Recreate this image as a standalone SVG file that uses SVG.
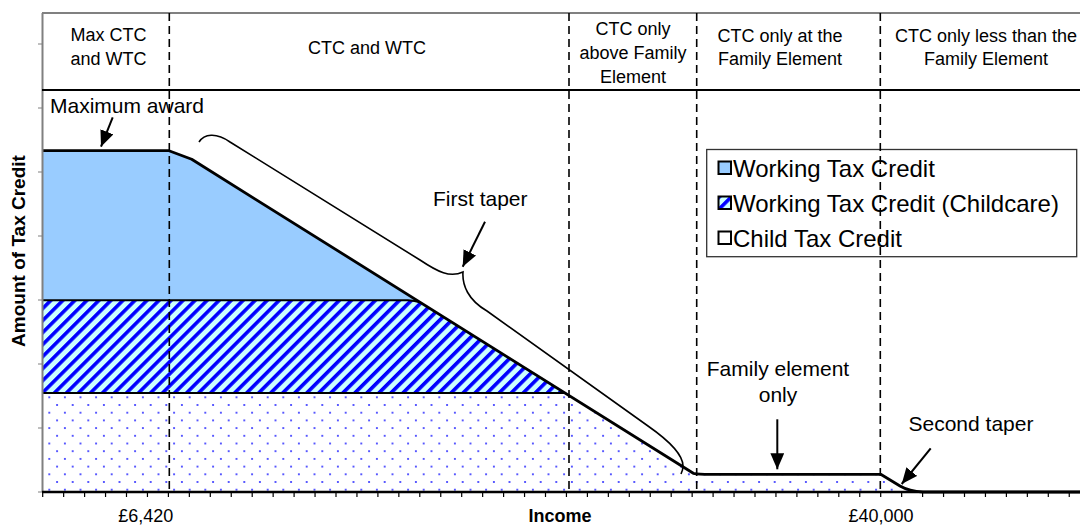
<svg xmlns="http://www.w3.org/2000/svg" width="1080" height="527" viewBox="0 0 1080 527">
<style>
text{font-family:"Liberation Sans",Arial,sans-serif;fill:#000}
.hdr{font-size:18px;text-anchor:middle}
.ann{font-size:21px}
.leg{font-size:24px}
.axt{font-size:18px;font-weight:bold;text-anchor:middle}
.tick{font-size:18px;text-anchor:middle}
.dash{stroke:#000;stroke-width:1.6;stroke-dasharray:8,5;fill:none}
.gray{stroke:#808080;stroke-width:2;fill:none}
.edge{stroke:#000;stroke-width:2;fill:none}
.outline{stroke:#000;stroke-width:2.8;fill:none;stroke-linejoin:round}
.arrow{stroke:#000;stroke-width:2;fill:none;marker-end:url(#ah)}
.brace{stroke:#000;stroke-width:1.6;fill:none}
</style>
<defs>
<pattern id="hatch" patternUnits="userSpaceOnUse" width="8.5" height="8.5" patternTransform="rotate(45)">
<rect width="8.5" height="8.5" fill="#CCFFFF"/>
<rect width="3.6" height="8.5" fill="#0000FF"/>
</pattern>
<pattern id="dots" patternUnits="userSpaceOnUse" x="49.3" y="397.3" width="15.6" height="15.4">
<rect width="15.6" height="15.4" fill="#FFFFFF"/>
<circle cx="0" cy="0" r="1" fill="#2020FF"/>
<circle cx="15.6" cy="0" r="1" fill="#2020FF"/>
<circle cx="0" cy="15.4" r="1" fill="#2020FF"/>
<circle cx="15.6" cy="15.4" r="1" fill="#2020FF"/>
<circle cx="7.8" cy="7.7" r="1" fill="#2020FF"/>
</pattern>
<marker id="ah" markerUnits="userSpaceOnUse" markerWidth="16" markerHeight="14" viewBox="0 0 15 13" refX="15" refY="6.5" orient="auto">
<path d="M0,0 L15,6.5 L0,13 Z" fill="#000"/>
</marker>
</defs>
<rect width="1080" height="527" fill="#FFFFFF"/>

<g id="areas">
<path id="area-ctc" d="M42,393 L565,393 L693.3,473.3 C697,474 700,474.3 710,474.3 L880.7,474.3 L900,486 C906,489.5 912,491.5 923,492 L42,492 Z" fill="url(#dots)"/>
<path id="area-childcare" d="M42,300.2 L416.7,300.2 L565,393 L42,393 Z" fill="url(#hatch)"/>
<path id="area-wtc" d="M42,150.7 L169,150.7 L191.7,159.3 L416.7,300.2 L42,300.2 Z" fill="#99CCFF"/>
<path class="edge" d="M42,393 L565,393"/>
<path class="edge" d="M42,300.2 L408,300.2 Q415,300.4 420,302.4"/>
<path class="outline" d="M42,150.7 L169,150.7 L191.7,159.3 L693.3,473.3 C697,474 700,474.3 710,474.3 L880.7,474.3 L900,486 C906,489.5 912,491.5 923,492 L1080,492"/>
</g>

<g id="axes">
<line class="gray" x1="42" y1="13" x2="1080" y2="13"/>
<line class="gray" x1="42.5" y1="13" x2="42.5" y2="492"/>
<line x1="42" y1="492" x2="1080" y2="492" stroke="#000" stroke-width="2.4"/>
<path stroke="#808080" stroke-width="1.2" d="M38,44H42M38,108H42M38,172H42M38,236H42M38,300H42M38,364H42M38,428H42M38,492H42"/>
<path stroke="#000" stroke-width="1.2" d="M42.7,492V497M63.65,492V497M84.6,492V497M105.55,492V497M126.5,492V497M147.45,492V497M168.4,492V497M189.35,492V497M210.3,492V497M231.25,492V497M252.2,492V497M273.15,492V497M294.1,492V497M315.05,492V497M336,492V497M356.95,492V497M377.9,492V497M398.85,492V497M419.8,492V497M440.75,492V497M461.7,492V497M482.65,492V497M503.6,492V497M524.55,492V497M545.5,492V497M566.45,492V497M587.4,492V497M608.35,492V497M629.3,492V497M650.25,492V497M671.2,492V497M692.15,492V497M713.1,492V497M734.05,492V497M755,492V497M775.95,492V497M796.9,492V497M817.85,492V497M838.8,492V497M859.75,492V497M880.7,492V497M901.65,492V497M922.6,492V497M943.55,492V497M964.5,492V497M985.45,492V497M1006.4,492V497M1027.35,492V497M1048.3,492V497M1069.25,492V497"/>
<text class="tick" x="145.7" y="521.5">£6,420</text>
<text class="tick" x="881" y="522">£40,000</text>
<text class="axt" x="560" y="522">Income</text>
<text class="axt" font-size="19" transform="translate(25,251) rotate(-90)" x="0" y="0" style="font-size:19px">Amount of Tax Credit</text>
</g>

<g id="header">
<line x1="42" y1="90" x2="1080" y2="90" stroke="#000" stroke-width="2.2"/>
<text class="hdr" x="108.5" y="41">Max CTC</text>
<text class="hdr" x="108.5" y="65">and WTC</text>
<text class="hdr" x="367" y="54">CTC and WTC</text>
<text class="hdr" x="633" y="35">CTC only</text>
<text class="hdr" x="633" y="59">above Family</text>
<text class="hdr" x="633" y="83">Element</text>
<text class="hdr" x="780" y="41.5">CTC only at the</text>
<text class="hdr" x="780" y="65">Family Element</text>
<text class="hdr" x="986" y="41.5">CTC only less than the</text>
<text class="hdr" x="986" y="65">Family Element</text>
</g>

<g id="legend">
<rect x="706.7" y="149.5" width="370" height="107.2" fill="#FFFFFF" stroke="#333" stroke-width="1.3"/>
<rect x="718.5" y="161.5" width="12.5" height="12.5" fill="#99CCFF" stroke="#000" stroke-width="2"/>
<text class="leg" x="733" y="176.5">Working Tax Credit</text>
<rect x="718.5" y="196.5" width="12.5" height="12.5" fill="url(#hatch)" stroke="#000" stroke-width="2"/>
<text class="leg" x="733" y="211.5">Working Tax Credit (Childcare)</text>
<rect x="718.5" y="231.5" width="12.5" height="12.5" fill="#FFFFFF" stroke="#000" stroke-width="2"/>
<text class="leg" x="733" y="246.5">Child Tax Credit</text>
</g>

<g id="dividers">
<line class="dash" x1="169.3" y1="13" x2="169.3" y2="492"/>
<line class="dash" x1="569" y1="13" x2="569" y2="492"/>
<line class="dash" x1="696.7" y1="13" x2="696.7" y2="492"/>
<line class="dash" x1="880.3" y1="13" x2="880.3" y2="492"/>
</g>

<g id="label-max-award"><text class="ann" x="50" y="113.3">Maximum award</text></g>
<g id="label-first-taper"><text class="ann" x="433" y="206">First taper</text></g>
<g id="label-family-element"><text class="ann" x="778" y="376" text-anchor="middle">Family element</text><text class="ann" x="778" y="401.5" text-anchor="middle">only</text></g>
<g id="label-second-taper"><text class="ann" x="908.5" y="430.7">Second taper</text></g>

<g id="connectors">
<path class="brace" d="M199,142 C204,134 216,132 230,142 L420,260 C438,272 450,278 463,272 C462,285 468,300 487,311 L648,426 C668,440 683,455 683,466 C683,470 682,472 681,474"/>
<path class="arrow" d="M112.7,117.3 L101,146.7"/>
<path class="arrow" d="M485,221.7 L462.7,266.7"/>
<path class="arrow" d="M777.3,419.3 L777.3,469.3"/>
<path class="arrow" d="M930.7,448.3 L901.7,484"/>
</g>
</svg>
